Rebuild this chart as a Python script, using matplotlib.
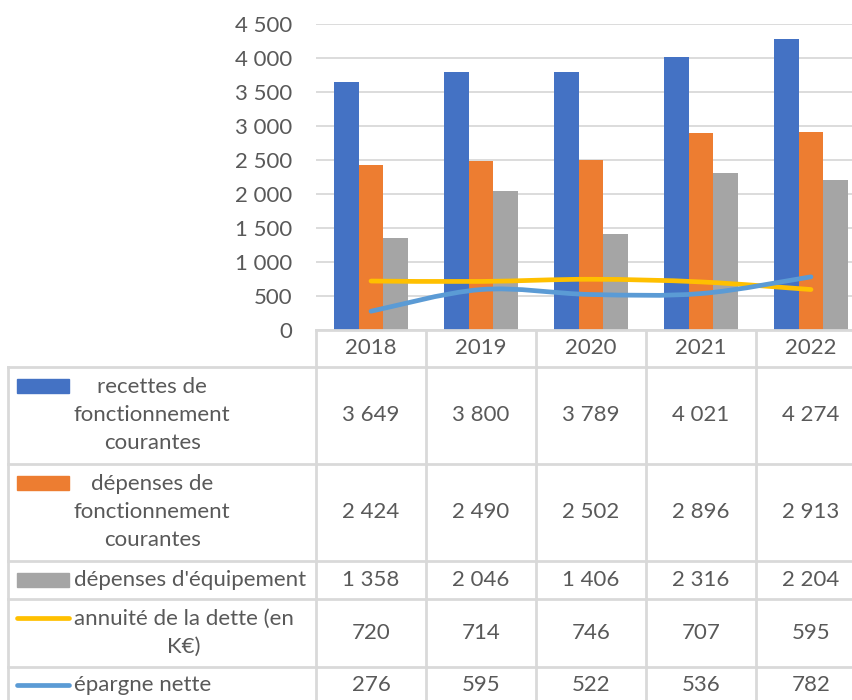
import numpy as np
import matplotlib.pyplot as plt
from matplotlib.path import Path
from matplotlib.patches import PathPatch, Rectangle
from matplotlib.lines import Line2D
from matplotlib.ticker import FuncFormatter
import matplotlib.transforms as mtransforms

plt.rcParams['font.family'] = ['Lato', 'DejaVu Sans']

# données
annees = ['2018', '2019', '2020', '2021', '2022']
recettes = [3649, 3800, 3789, 4021, 4274]
depenses_fonct = [2424, 2490, 2502, 2896, 2913]
depenses_equip = [1358, 2046, 1406, 2316, 2204]
annuite = [720, 714, 746, 707, 595]
epargne = [276, 595, 522, 536, 782]

noms = ['recettes de\nfonctionnement\ncourantes',
        'dépenses de\nfonctionnement\ncourantes',
        "dépenses d'équipement",
        'annuité de la dette (en\nK€)',
        'épargne nette']
series = [recettes, depenses_fonct, depenses_equip, annuite, epargne]
couleurs = ['#4472C4', '#ED7D31', '#A5A5A5', '#FFC000', '#5B9BD5']
types = ['bar', 'bar', 'bar', 'line', 'line']

W, H = 853, 700
texte = '#595959'
trait = '#D9D9D9'
fs = 16

fig = plt.figure(figsize=(W / 100, H / 100), dpi=100)
# zone de tracé (en pixels), coupée à droite comme l'original
x0, x1 = 316, 866
y_haut, y_bas = 24, 330
ax = fig.add_axes([x0 / W, 1 - y_bas / H, (x1 - x0) / W, (y_bas - y_haut) / H])

x = np.arange(len(annees))
n_bar = types.count('bar')
largeur = (1 / 1.5) / n_bar
for i in range(n_bar):
    ax.bar(x + (i - 1) * largeur, series[i], largeur, color=couleurs[i], zorder=2)


def courbe_lisse(xs, ys):
    pts = np.column_stack([xs, ys]).astype(float)
    p = np.vstack([pts[0], pts, pts[-1]])
    verts = [tuple(pts[0])]
    codes = [Path.MOVETO]
    for k in range(1, len(p) - 2):
        c1 = p[k] + (p[k + 1] - p[k - 1]) / 6
        c2 = p[k + 1] - (p[k + 2] - p[k]) / 6
        verts += [tuple(c1), tuple(c2), tuple(p[k + 1])]
        codes += [Path.CURVE4] * 3
    return Path(verts, codes)


for i in range(n_bar, len(series)):
    patch = PathPatch(courbe_lisse(x, series[i]), facecolor='none', edgecolor=couleurs[i],
                      lw=3.4, capstyle='round', joinstyle='round', zorder=3)
    ax.add_patch(patch)

ax.set_xlim(-0.5, len(annees) - 0.5)
ax.set_ylim(0, 4500)
ax.set_yticks(np.arange(0, 4501, 500))
ax.yaxis.set_major_formatter(FuncFormatter(lambda v, p: f'{int(v):,}'.replace(',', ' ')))
ax.tick_params(axis='y', length=0, pad=17, labelsize=fs, labelcolor=texte)
ax.set_xticks([])
ax.grid(axis='y', color=trait, lw=1.3, zorder=0)
ax.set_axisbelow(True)
for s in ax.spines.values():
    s.set_visible(False)

# tableau de données sous le graphique
tr = mtransforms.blended_transform_factory(ax.transData, fig.transFigure)
px = lambda v: 1 - v / H
lignes = [330, 367, 464, 561, 599, 667, 703]
gauche = 8

fig.add_artist(Line2D([x0 / W, 1], [px(lignes[0])] * 2, color=trait, lw=2))
for yl in lignes[1:-1]:
    fig.add_artist(Line2D([gauche / W, 1], [px(yl)] * 2, color=trait, lw=2))
for b in np.arange(len(annees) + 1) - 0.5:
    ax.add_artist(Line2D([b, b], [px(lignes[0]), 0], color=trait, lw=2,
                         transform=tr, clip_on=False))
fig.add_artist(Line2D([gauche / W] * 2, [px(lignes[1]), 0], color=trait, lw=2))

yc = (lignes[0] + lignes[1]) / 2
for j, a in enumerate(annees):
    ax.text(j, px(yc), a, transform=tr, ha='center', va='center', fontsize=fs,
            color=texte, clip_on=False)

interligne = 29.5
for i, (nom, vals) in enumerate(zip(noms, series)):
    yc = (lignes[i + 1] + lignes[i + 2]) / 2
    if i == len(series) - 1:
        yc = 685
    nl = nom.count('\n') + 1
    y1 = yc - (nl - 1) / 2 * interligne
    fig.text(74 / W, px(yc), nom, ha='left', va='center', ma='center', fontsize=fs,
             color=texte, linespacing=1.5)
    if types[i] == 'bar':
        fig.add_artist(Rectangle((17 / W, px(y1 + 7)), 52 / W, 14 / H,
                                 transform=fig.transFigure, color=couleurs[i]))
    else:
        fig.add_artist(Line2D([17 / W, 69 / W], [px(y1)] * 2, color=couleurs[i], lw=3.4,
                              solid_capstyle='round'))
    for j, v in enumerate(vals):
        ax.text(j, px(yc), f'{v:,}'.replace(',', ' '), transform=tr, ha='center',
                va='center', fontsize=fs, color=texte, clip_on=False)

fig.savefig('out.png', dpi=100)
